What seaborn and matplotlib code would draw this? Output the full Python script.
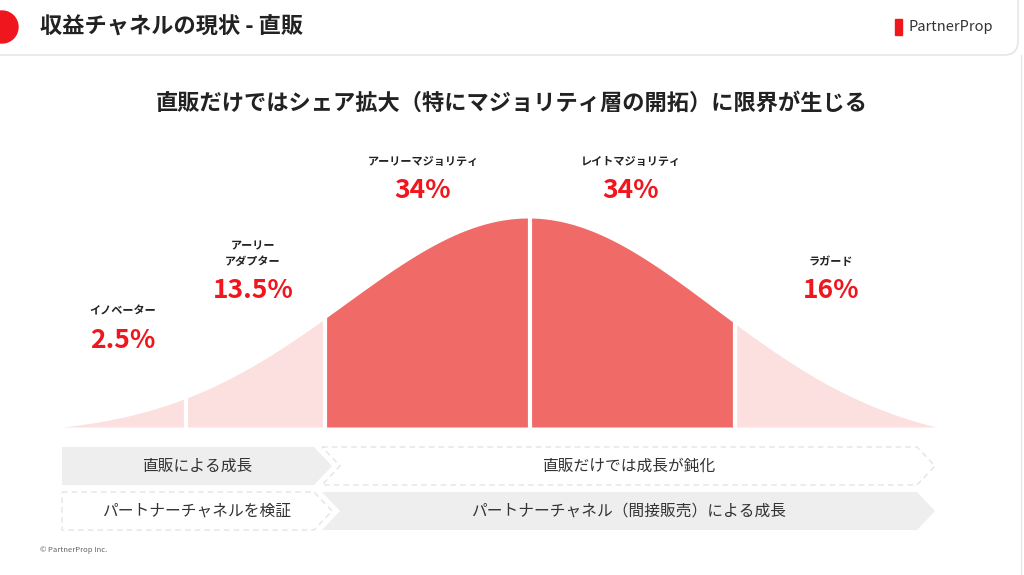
import numpy as np
import pandas as pd
import matplotlib
matplotlib.use("Agg")
import matplotlib.pyplot as plt
from matplotlib.patches import Polygon, Rectangle, FancyBboxPatch
import seaborn as sns

# データ
segments = ["イノベーター", "アーリー\nアダプター", "アーリーマジョリティ", "レイトマジョリティ", "ラガード"]
shares = ["2.5%", "13.5%", "34%", "34%", "16%"]
edges_sigma = [-2.28, -1.68, -1.0, 0.0, 1.0, 1.98]
dark = [False, False, True, True, False]
label_pos = [(123, 318), (253, 268), (423, 168), (631, 168), (831, 268)]
row1 = ["直販による成長", "直販だけでは成長が鈍化"]
row2 = ["パートナーチャネルを検証", "パートナーチャネル（間接販売）による成長"]

sns.set_theme(style="white")
plt.rcParams['font.family'] = ['Noto Sans CJK JP', 'DejaVu Sans']

fig = plt.figure(figsize=(10.24, 5.75), dpi=100)
ax = fig.add_axes([0, 0, 1, 1])
ax.set_xlim(0, 1024)
ax.set_ylim(575, 0)
ax.axis("off")

# ヘッダー
ax.add_patch(FancyBboxPatch((-30, -30), 1048, 85, boxstyle="round,pad=0,rounding_size=14",
                            fc="white", ec="#E6E6E6", lw=1.2, zorder=1))
ax.add_patch(plt.Circle((2, 27), 16, color="#F0161E", zorder=2))
ax.text(40, 27, "収益チャネルの現状 - 直販", fontsize=16, fontweight="bold", va="center", color="#222222")
ax.add_patch(Rectangle((895, 19), 7, 16, color="#F0161E", zorder=2))
ax.text(908, 27, "PartnerProp", fontsize=10.5, va="center", color="#333333")

ax.text(512, 103, "直販だけではシェア拡大（特にマジョリティ層の開拓）に限界が生じる",
        fontsize=16, fontweight="bold", ha="center", va="center", color="#222222")

# ベル曲線
mu, sig, base, top = 530, 205, 427, 218
s = np.linspace(edges_sigma[0], edges_sigma[-1], 400)
h = np.exp(-s ** 2 / (2 * 0.9 ** 2))
h = h - np.interp(s, [s[0], s[-1]], [h[0], h[-1]])
h = h / h.max()
curve = pd.DataFrame({"x": mu + s * sig, "y": base - h * (base - top)})
for i in range(5):
    m = (s >= edges_sigma[i]) & (s <= edges_sigma[i + 1])
    ax.fill_between(curve["x"][m], base, curve["y"][m],
                    color="#F06B68" if dark[i] else "#FCE0DF", lw=0, zorder=2)
sns.lineplot(data=curve, x="x", y="y", ax=ax, color="white", lw=0.01, zorder=1)
for e in edges_sigma[1:-1]:
    ax.plot([mu + e * sig] * 2, [base, top - 5], color="white", lw=3, zorder=3)

for (x, y), name, pct in zip(label_pos, segments, shares):
    ax.text(x, y, name, fontsize=8, fontweight="bold", ha="center", va="bottom", color="#222222", linespacing=1.25)
    ax.text(x, y + 22, pct, fontsize=19, fontweight="bold", ha="center", va="center", color="#F0161E")

# 矢印
def chevron(x0, x1, y0, y1, notch, solid, text):
    d = 18
    ym = (y0 + y1) / 2
    pts = [(x0, y0), (x1 - d, y0), (x1, ym), (x1 - d, y1), (x0, y1)]
    if notch:
        pts.append((x0 + d, ym))
    if solid:
        ax.add_patch(Polygon(pts, fc="#EEEEEE", ec="none", zorder=2))
    else:
        ax.add_patch(Polygon(pts, fc="white", ec="#E4E4E4", lw=1, ls=(0, (4, 3)), zorder=2))
    ax.text((x0 + x1) / 2, ym, text, fontsize=11.3, ha="center", va="center", color="#333333", zorder=3)

chevron(62, 332, 447, 485, False, True, row1[0])
chevron(322, 935, 447, 485, True, False, row1[1])
chevron(62, 332, 492, 530, False, False, row2[0])
chevron(322, 935, 492, 530, True, True, row2[1])

ax.text(40, 550, "© PartnerProp Inc.", fontsize=5.5, va="center", color="#666666")
ax.plot([1021, 1021], [55, 575], color="#E6E6E6", lw=1)

fig.savefig("out.png", dpi=100)
